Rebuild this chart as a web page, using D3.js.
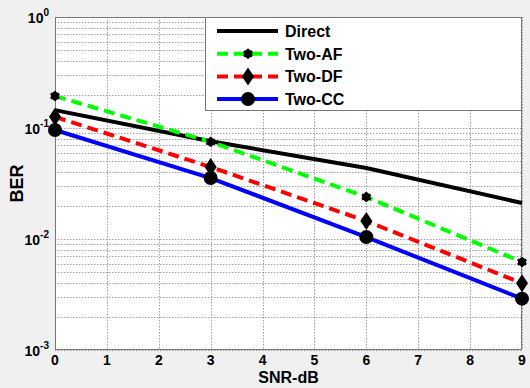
<!DOCTYPE html>
<html><head><meta charset="utf-8">
<script src="https://cdn.jsdelivr.net/npm/d3@7"></script>
<style>body{margin:0;background:#f0f0f0;}svg{display:block;font-family:Arial,"Liberation Sans",sans-serif;}</style>
</head><body>
<script>
const snr = [0, 3, 6, 9];
const direct = [0.145, 0.076, 0.0436, 0.0211];
const twoAF = [0.194, 0.075, 0.0239, 0.0062];
const twoDF = [0.126, 0.0445, 0.0145, 0.0040];
const twoCC = [0.096, 0.0354, 0.0104, 0.0029];
const xTicks = [0,1,2,3,4,5,6,7,8,9];
const yDecades = [0,-1,-2,-3];
const seriesNames = ["Direct","Two-AF","Two-DF","Two-CC"];

const W=530,H=388;
const m={l:55,r:8,t:17,b:38};
const svg=d3.select("body").append("svg").attr("width",W).attr("height",H);
svg.append("rect").attr("width",W).attr("height",H).attr("fill","#f0f0f0");
const x=d3.scaleLinear().domain([0,9]).range([m.l,W-m.r]);
const y=d3.scaleLog().domain([1e-3,1]).range([H-m.b,m.t]);
svg.append("rect").attr("x",m.l).attr("y",m.t).attr("width",W-m.r-m.l).attr("height",H-m.b-m.t).attr("fill","#fff");

// grid
const minor=[];
for(let e=-3;e<0;e++) for(let k=1;k<10;k++) minor.push(k*Math.pow(10,e));
minor.push(1);
const g=svg.append("g");
g.selectAll("line.hy").data(minor).join("line")
 .attr("x1",m.l).attr("x2",W-m.r).attr("y1",d=>Math.round(y(d))+0.5).attr("y2",d=>Math.round(y(d))+0.5)
 .attr("stroke","#888").attr("stroke-width",0.8).attr("stroke-dasharray","1.5,1.5");
g.selectAll("line.vx").data(xTicks).join("line")
 .attr("y1",m.t).attr("y2",H-m.b).attr("x1",d=>Math.round(x(d))+0.5).attr("x2",d=>Math.round(x(d))+0.5)
 .attr("stroke","#888").attr("stroke-width",0.8).attr("stroke-dasharray","1.5,1.5");

// axes box
svg.append("rect").attr("x",m.l+0.5).attr("y",m.t+0.5).attr("width",W-m.r-m.l-1).attr("height",H-m.b-m.t-1)
 .attr("fill","none").attr("stroke","#777").attr("stroke-width",1);

// x tick labels
svg.selectAll("text.xt").data(xTicks).join("text")
 .attr("x",d=>x(d)).attr("y",H-m.b+15).attr("text-anchor","middle")
 .attr("font-size",14).attr("font-weight","bold").text(d=>d);
// y tick labels
yDecades.forEach(e=>{
  const t=svg.append("text").attr("x",m.l-6).attr("y",y(Math.pow(10,e))+6).attr("text-anchor","end")
   .attr("font-size",14).attr("font-weight","bold");
  t.append("tspan").text("10");
  t.append("tspan").attr("font-size",10).attr("dy",-7).text(e);
});
svg.append("text").attr("x",(m.l+W-m.r)/2).attr("y",H-5).attr("text-anchor","middle")
 .attr("font-size",16).attr("font-weight","bold").text("SNR-dB");
svg.append("text").attr("transform",`translate(23,${(m.t+H-m.b)/2}) rotate(-90)`).attr("text-anchor","middle")
 .attr("font-size",18).attr("font-weight","bold").text("BER");

const series=[
 {name:seriesNames[0],vals:direct,color:"#000",dash:null,marker:null},
 {name:seriesNames[1],vals:twoAF,color:"#00ff00",dash:"11,6",marker:"star"},
 {name:seriesNames[2],vals:twoDF,color:"#ff0000",dash:"11,6",marker:"diamond"},
 {name:seriesNames[3],vals:twoCC,color:"#0000ff",dash:null,marker:"circle"}
];
const line=d3.line().x((d,i)=>x(snr[i])).y(d=>y(d));
function marker(sel,type,cx,cy){
  if(type==="star"){
    sel.append("path").attr("d",d3.symbol(d3.symbolAsterisk,70)()).attr("transform",`translate(${cx},${cy})`)
     .attr("fill","none").attr("stroke","#000").attr("stroke-width",2.2);
    sel.append("circle").attr("cx",cx).attr("cy",cy).attr("r",4.2).attr("fill","#000");
  } else if(type==="diamond"){
    sel.append("path").attr("d",`M${cx},${cy-9}L${cx+6},${cy}L${cx},${cy+9}L${cx-6},${cy}Z`).attr("fill","#000");
  } else if(type==="circle"){
    sel.append("circle").attr("cx",cx).attr("cy",cy).attr("r",7).attr("fill","#000");
  }
}
const pg=svg.append("g");
series.forEach(s=>{
  pg.append("path").datum(s.vals).attr("d",line).attr("fill","none").attr("stroke",s.color)
   .attr("stroke-width",4).attr("stroke-dasharray",s.dash);
});
series.forEach(s=>{
  if(s.marker) s.vals.forEach((v,i)=>marker(pg,s.marker,x(snr[i]),y(v)));
});

// legend
const lg=svg.append("g");
lg.append("rect").attr("x",205.5).attr("y",17.5).attr("width",316).attr("height",93).attr("fill","#fff").attr("stroke","#777").attr("stroke-width",1);
series.forEach((s,i)=>{
  const ly=31+i*22.7;
  lg.append("line").attr("x1",217).attr("x2",278).attr("y1",ly).attr("y2",ly).attr("stroke",s.color).attr("stroke-width",4).attr("stroke-dasharray",s.dash);
  if(s.marker) marker(lg,s.marker,248,ly);
  lg.append("text").attr("x",285).attr("y",ly+6).attr("font-size",16).attr("font-weight","bold").text(s.name);
});
</script>
</body></html>
